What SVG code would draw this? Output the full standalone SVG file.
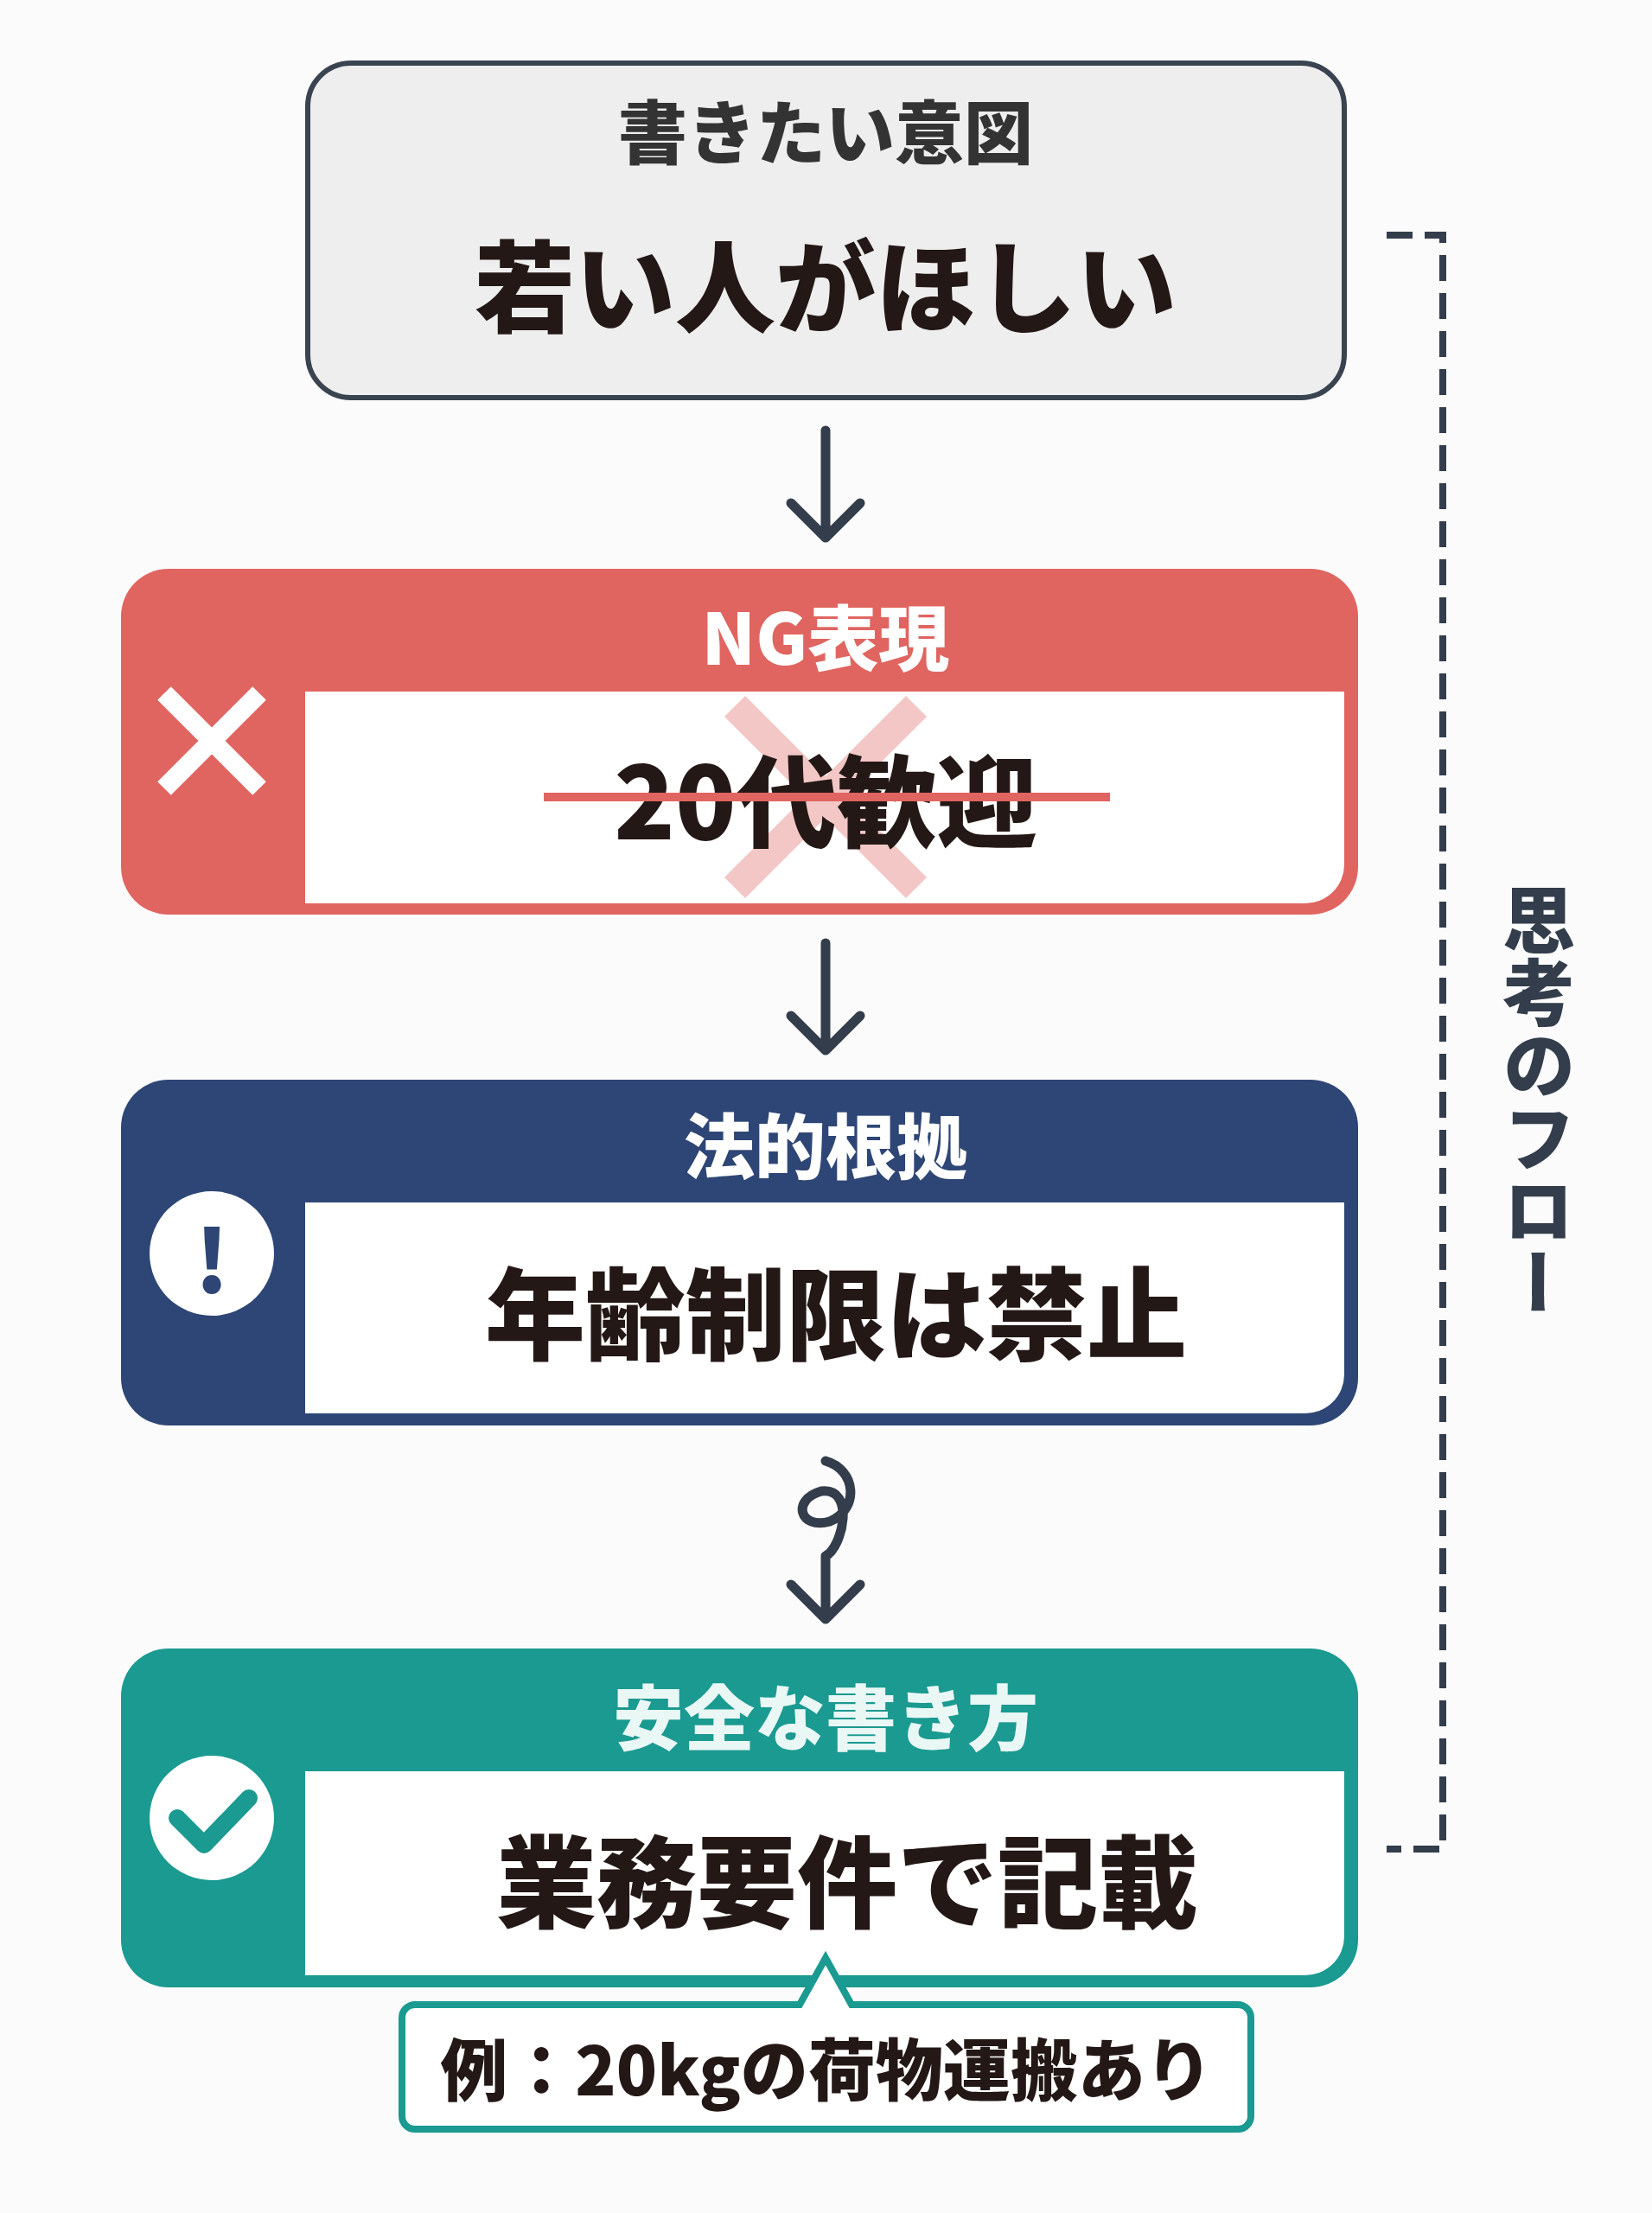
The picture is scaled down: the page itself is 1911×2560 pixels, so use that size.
<svg xmlns="http://www.w3.org/2000/svg" width="1911" height="2560" viewBox="0 0 1911 2560">
<defs>
<style>
.t{font-family:"Noto Sans CJK JP","Noto Sans",sans-serif;font-weight:900;text-anchor:middle;dominant-baseline:central}
.arr{fill:none;stroke:#333d4b;stroke-width:11;stroke-linecap:round;stroke-linejoin:round}
</style>
</defs>
<rect width="1911" height="2560" fill="#fbfbfb"/>
<g id="intent">
<rect x="356" y="73" width="1199" height="387" rx="50" fill="#eeeeee" stroke="#3a4350" stroke-width="6"/>
<text class="t" x="955" y="148" font-size="80" fill="#333">書きたい意図</text>
<text class="t" x="955" y="325" font-size="116" fill="#231815">若い人がほしい</text>
</g>
<g id="ng">
<rect x="140" y="658" width="1431" height="400" rx="55" fill="#e06560"/>
<path d="M353 800 H1555 V1000 a45 45 0 0 1 -45 45 H353 Z" fill="#fff"/>
<text class="t" x="955" y="733" font-size="82" fill="#fff">NG表現</text>
<path d="M190 802 L300 912 M300 802 L190 912" stroke="#fff" stroke-width="22"/>
<path d="M850 817 L1060 1027 M1060 817 L850 1027" stroke="#f3c7c6" stroke-width="34"/>
<text class="t" x="955" y="920" font-size="116" fill="#231815">20代歓迎</text>
<line x1="629" y1="922" x2="1284" y2="922" stroke="#e06560" stroke-width="10"/>
</g>
<g id="law">
<rect x="140" y="1249" width="1431" height="400" rx="55" fill="#2e4675"/>
<path d="M353 1391 H1555 V1590 a45 45 0 0 1 -45 45 H353 Z" fill="#fff"/>
<text class="t" x="955" y="1321" font-size="82" fill="#fff">法的根拠</text>
<circle cx="245" cy="1450" r="72" fill="#fff"/>
<text class="t" x="245" y="1452" font-size="100" fill="#2e4675">!</text>
<text class="t" x="967" y="1513" font-size="116" fill="#231815">年齢制限は禁止</text>
</g>
<g id="safe">
<rect x="140" y="1907" width="1431" height="392" rx="55" fill="#1a9a90"/>
<path d="M353 2049 H1555 V2240 a45 45 0 0 1 -45 45 H353 Z" fill="#fff"/>
<text class="t" x="955" y="1982" font-size="82" fill="#e9f7f5">安全な書き方</text>
<circle cx="245" cy="2103" r="72" fill="#fff"/>
<path d="M205 2103 L236 2134 L288 2080" fill="none" stroke="#1a9a90" stroke-width="20" stroke-linecap="round" stroke-linejoin="round"/>
<text class="t" x="980" y="2170" font-size="116" fill="#231815">業務要件で記載</text>
</g>
<g id="example">
<path d="M480 2319 H925 L955 2265 L985 2319 H1432 a15 15 0 0 1 15 15 V2448 a15 15 0 0 1 -15 15 H480 a15 15 0 0 1 -15 -15 V2334 a15 15 0 0 1 15 -15 Z" fill="#fff" stroke="#1a9a90" stroke-width="8"/>
<text class="t" x="956" y="2390" font-size="78" fill="#231815">例：20kgの荷物運搬あり</text>
</g>
<g id="connectors">
<path class="arr" d="M955 498 V620 M915 582 L955 622 L995 582"/>
<path class="arr" d="M955 1091 V1213 M915 1175 L955 1215 L995 1175"/>
<path class="arr" d="M955 1690 C990 1700 995 1745 960 1760 C925 1770 915 1735 950 1725 C990 1720 975 1790 955 1800 V1870 M915 1833 L955 1873 L995 1833"/>
</g>
<g id="flow">
<path d="M1604 272 H1669 V2139 H1604" fill="none" stroke="#333d4b" stroke-width="8" stroke-dasharray="30 14"/>
<text x="1780" y="1022" font-family="Noto Sans CJK JP,sans-serif" font-weight="900" font-size="84" fill="#333d4b" writing-mode="vertical-rl">思考のフロー</text>
</g>
</svg>
